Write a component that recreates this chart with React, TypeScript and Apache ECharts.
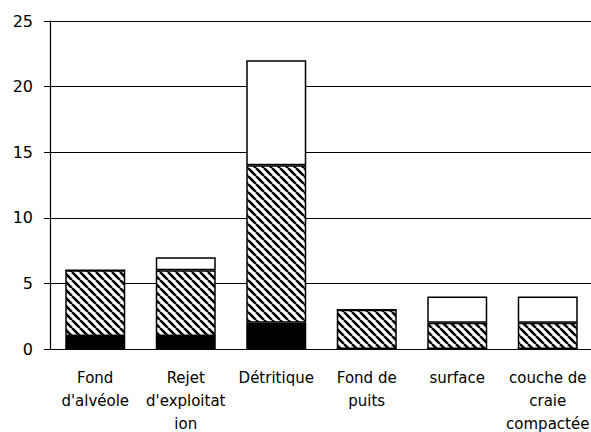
import React, { useEffect, useRef } from "react";
import * as echarts from "echarts";

const categories = [
  "Fond\nd'alvéole",
  "Rejet\nd'exploitat\nion",
  "Détritique",
  "Fond de\npuits",
  "surface",
  "couche de\ncraie\ncompactée",
];
const blackValues = [1, 1, 2, 0, 0, 0];
const hatchedValues = [5, 5, 12, 3, 2, 2];
const whiteValues = [0, 1, 8, 0, 2, 2];
const yTicks = [0, 5, 10, 15, 20, 25];

function makeHatch(): HTMLCanvasElement {
  const c = document.createElement("canvas");
  const s = 8;
  c.width = s;
  c.height = s;
  const ctx = c.getContext("2d")!;
  ctx.fillStyle = "#fff";
  ctx.fillRect(0, 0, s, s);
  ctx.strokeStyle = "#000";
  ctx.lineWidth = 2.6;
  for (const o of [-s, 0, s]) {
    ctx.beginPath();
    ctx.moveTo(o, 0);
    ctx.lineTo(o + s, s);
    ctx.stroke();
  }
  return c;
}

export default function App() {
  const ref = useRef<HTMLDivElement>(null);
  useEffect(() => {
    if (!ref.current) return;
    const chart = echarts.init(ref.current, undefined, { renderer: "svg" });
    const font = "DejaVu Sans";
    const border = { borderColor: "#000", borderWidth: 1.5 };
    chart.setOption({
      animation: false,
      backgroundColor: "#fff",
      grid: {
        left: 50,
        right: -2,
        top: 21,
        bottom: 83,
        containLabel: false,
        outerBoundsMode: "none",
      },
      xAxis: {
        type: "category",
        data: categories,
        axisLine: { show: true, lineStyle: { color: "#000", width: 1.2 } },
        axisTick: { show: false },
        axisLabel: {
          color: "#000",
          fontFamily: font,
          fontSize: 15,
          lineHeight: 23,
          margin: 17,
          interval: 0,
        },
      },
      yAxis: {
        type: "value",
        min: yTicks[0],
        max: yTicks[yTicks.length - 1],
        interval: 5,
        axisLine: { show: true, lineStyle: { color: "#000", width: 1.2 } },
        axisTick: { show: true, length: 6, lineStyle: { color: "#000" } },
        splitLine: { show: true, lineStyle: { color: "#000", width: 1.2 } },
        axisLabel: { color: "#000", fontFamily: font, fontSize: 16, margin: 17 },
      },
      series: [
        {
          type: "bar",
          stack: "s",
          data: blackValues,
          barWidth: 60,
          itemStyle: { color: "#000", ...border },
        },
        {
          type: "bar",
          stack: "s",
          data: hatchedValues,
          barWidth: 60,
          itemStyle: { color: { image: makeHatch(), repeat: "repeat" }, ...border },
        },
        {
          type: "bar",
          stack: "s",
          data: whiteValues,
          barWidth: 60,
          itemStyle: { color: "#fff", ...border },
        },
      ],
    });
    return () => chart.dispose();
  }, []);
  return <div ref={ref} style={{ width: 591, height: 432, position: "absolute", left: 0, top: 0 }} />;
}
